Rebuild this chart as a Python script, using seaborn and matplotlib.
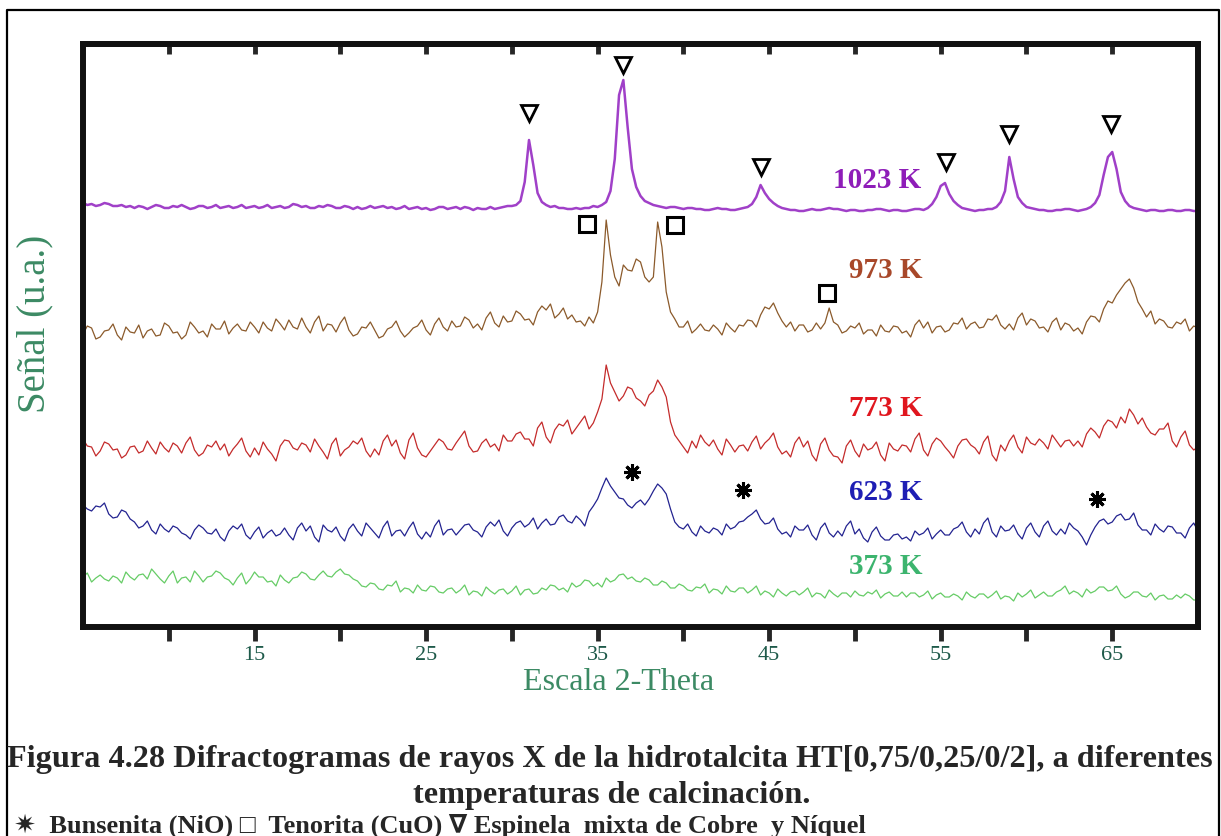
import numpy as np
import pandas as pd
import matplotlib
matplotlib.use("Agg")
import matplotlib.pyplot as plt
from matplotlib.lines import Line2D
import seaborn as sns

sns.set_theme(style="white")
plt.rcParams["font.family"] = ["Liberation Serif", "DejaVu Sans"]

# 2-theta grid: 5.0 -> 70.0 every 0.25 degree
theta_start, theta_step = 5.0, 0.25

# signal (a.u.), one row per degree (x.00, x.25, x.50, x.75)
s1023 = [424, 422, 423, 421,  422, 424, 423, 421,  421, 422, 420, 421,  419, 421, 420, 418,  420, 422, 421, 419,
         419, 421, 420, 422,  420, 418, 419, 421,  421, 419, 420, 422,  419, 420, 421, 419,  420, 422, 419, 420,
         421, 419, 420, 422,  419, 420, 421, 419,  420, 423, 422, 420,  421, 419, 419, 421,  420, 422, 421, 419,
         419, 421, 420, 418,  420, 418, 419, 421,  419, 420, 421, 419,  420, 418, 419, 421,  418, 419, 420, 418,
         419, 417, 418, 420,  420, 418, 419, 420,  418, 420, 419, 417,  419, 418, 418, 420,  418, 419, 420, 421,
         421, 422, 426, 445,  487, 462, 434, 425,  422, 420, 421, 419,  419, 418, 418, 419,  418, 419, 419, 421,
         420, 422, 425, 436,  468, 532, 547, 500,  458, 440, 431, 426,  424, 422, 421, 420,  419, 420, 420, 419,
         418, 419, 419, 418,  418, 417, 417, 418,  419, 418, 418, 417,  417, 418, 419, 420,  423, 430, 442, 434,
         428, 424, 421, 419,  418, 417, 417, 416,  416, 417, 418, 417,  417, 418, 419, 418,  418, 417, 416, 417,
         417, 416, 416, 417,  417, 418, 418, 417,  416, 417, 417, 416,  416, 417, 418, 418,  417, 419, 423, 430,
         441, 444, 433, 426,  422, 419, 418, 417,  416, 417, 417, 418,  418, 420, 425, 436,  470, 448, 430, 424,
         420, 419, 418, 417,  417, 416, 416, 417,  417, 418, 418, 417,  416, 417, 418, 420,  424, 432, 452, 470,
         475, 458, 435, 426,  421, 419, 418, 417,  416, 417, 417, 416,  416, 417, 417, 416,  416, 417, 417, 416,
         416]
s973 = [293, 301, 299, 288,  290, 296, 297, 303,  292, 287, 300, 295,  294, 302, 289, 296,  298, 291, 292, 304,
        301, 294, 295, 288,  292, 305, 300, 294,  296, 290, 303, 298,  298, 306, 293, 299,  303, 297, 296, 305,
        300, 294, 305, 299,  296, 308, 303, 297,  307, 300, 298, 309,  300, 294, 305, 311,  296, 303, 302, 295,
        304, 310, 297, 291,  293, 300, 299, 305,  297, 289, 291, 298,  300, 306, 296, 290,  294, 299, 301, 307,
        297, 292, 303, 309,  300, 296, 306, 300,  301, 310, 307, 299,  303, 297, 309, 315,  304, 300, 311, 305,
        306, 316, 313, 307,  308, 302, 315, 321,  317, 323, 309, 313,  319, 308, 312, 305,  306, 301, 310, 304,
        315, 345, 407, 372,  350, 341, 362, 357,  356, 368, 365, 350,  345, 350, 405, 380,  335, 315, 308, 300,
        300, 306, 294, 298,  303, 297, 296, 302,  298, 292, 304, 299,  295, 302, 301, 307,  306, 300, 312, 320,
        318, 324, 314, 306,  300, 305, 296, 302,  302, 295, 297, 304,  298, 304, 319, 305,  302, 294, 296, 301,
        299, 304, 293, 297,  297, 291, 302, 296,  295, 301, 300, 294,  296, 290, 302, 307,  299, 305, 294, 300,
        301, 295, 297, 304,  303, 309, 298, 303,  305, 299, 300, 308,  307, 312, 302, 298,  303, 297, 309, 314,
        302, 308, 306, 299,  300, 295, 305, 309,  297, 304, 302, 296,  299, 293, 305, 311,  310, 305, 318, 326,
        324, 332, 338, 344,  348, 339, 325, 318,  310, 316, 303, 308,  306, 300, 299, 305,  303, 308, 296, 301,
        299]
s773 = [188, 181, 180, 171,  176, 185, 183, 177,  178, 169, 172, 180,  181, 174, 176, 186,  179, 173, 185, 179,
        175, 184, 181, 174,  184, 190, 177, 171,  174, 182, 180, 186,  177, 183, 171, 178,  183, 189, 176, 170,
        179, 172, 185, 178,  173, 166, 181, 187,  186, 179, 177, 184,  182, 175, 188, 181,  175, 168, 183, 189,
        171, 177, 180, 186,  183, 189, 176, 170,  178, 172, 186, 192,  181, 187, 174, 168,  187, 194, 179, 172,
        170, 176, 182, 188,  185, 178, 177, 184,  190, 196, 181, 175,  176, 184, 188, 180,  183, 176, 192, 186,
        186, 193, 195, 188,  188, 181, 199, 205,  190, 184, 197, 203,  201, 207, 193, 199,  205, 211, 198, 204,
        215, 228, 262, 244,  235, 226, 231, 240,  238, 229, 226, 221,  232, 236, 247, 240,  230, 205, 192, 186,
        180, 174, 186, 179,  192, 185, 181, 187,  178, 172, 188, 182,  175, 181, 182, 176,  185, 191, 178, 184,
        188, 194, 180, 173,  176, 170, 184, 190,  180, 186, 172, 166,  183, 189, 177, 171,  170, 164, 181, 187,
        176, 170, 183, 177,  179, 185, 172, 166,  184, 178, 176, 182,  181, 175, 188, 194,  177, 171, 183, 189,
        186, 180, 175, 169,  181, 187, 188, 182,  179, 173, 185, 191,  172, 166, 182, 176,  186, 192, 180, 174,
        190, 184, 182, 188,  184, 178, 192, 186,  180, 186, 187, 181,  186, 180, 193, 199,  195, 189, 201, 207,
        205, 199, 210, 204,  218, 212, 203, 209,  200, 194, 192, 198,  198, 204, 186, 180,  190, 196, 182, 177,
        180]
s623 = [122, 118, 116, 121,  120, 124, 113, 109,  110, 117, 115, 108,  105, 99, 101, 106,  97, 93, 103, 98,
        95, 101, 99, 94,  92, 88, 97, 102,  99, 94, 93, 98,  90, 86, 96, 101,  98, 103, 92, 88,
        95, 100, 89, 94,  97, 91, 93, 99,  92, 87, 99, 104,  96, 101, 90, 85,  102, 97, 95, 100,
        91, 86, 98, 103,  96, 91, 104, 99,  94, 89, 100, 106,  91, 96, 97, 91,  99, 105, 93, 88,
        95, 90, 101, 107,  92, 97, 98, 92,  97, 102, 103, 97,  95, 90, 100, 105,  101, 107, 96, 91,
        99, 104, 106, 100,  103, 109, 98, 104,  108, 102, 103, 110,  112, 106, 104, 111,  107, 101, 115, 121,
        128, 139, 149, 141,  135, 129, 128, 122,  119, 124, 127, 122,  128, 136, 143, 139,  133, 118, 105, 100,
        98, 103, 95, 91,  101, 96, 94, 99,  97, 92, 103, 98,  100, 105, 106, 110,  113, 117, 108, 103,
        104, 109, 98, 93,  95, 90, 101, 97,  97, 102, 92, 87,  99, 104, 94, 90,  96, 91, 101, 106,
        93, 98, 89, 85,  95, 100, 91, 87,  87, 92, 93, 88,  90, 86, 96, 92,  94, 99, 88, 93,
        97, 92, 92, 98,  100, 105, 95, 90,  98, 93, 104, 109,  95, 90, 101, 96,  97, 102, 93, 88,
        99, 104, 95, 90,  101, 106, 96, 92,  98, 93, 104, 99,  96, 90, 82, 92,  100, 106, 108, 103,
        105, 111, 113, 107,  108, 114, 102, 97,  97, 92, 103, 98,  95, 101, 100, 94,  94, 89, 99, 104,
        96]
s373 = [50, 54, 45, 49,  52, 48, 46, 51,  49, 44, 55, 50,  47, 52, 53, 48,  58, 53, 48, 44,
        51, 56, 44, 49,  50, 45, 56, 51,  45, 50, 51, 56,  54, 49, 47, 42,  49, 54, 43, 48,
        55, 50, 50, 45,  46, 41, 52, 47,  44, 49, 50, 55,  53, 48, 47, 52,  56, 51, 50, 55,
        58, 53, 52, 48,  46, 41, 40, 44,  43, 38, 37, 42,  41, 46, 35, 39,  38, 34, 42, 37,
        36, 41, 40, 35,  34, 38, 39, 34,  37, 42, 32, 36,  35, 31, 40, 36,  33, 37, 38, 33,
        36, 41, 32, 37,  38, 33, 34, 39,  37, 42, 41, 37,  39, 35, 44, 40,  42, 47, 46, 41,
        44, 40, 49, 45,  47, 52, 53, 48,  50, 46, 45, 49,  47, 42, 42, 46,  44, 39, 39, 43,
        41, 37, 36, 40,  39, 43, 34, 38,  37, 33, 41, 36,  35, 39, 39, 34,  37, 41, 32, 36,
        34, 30, 38, 34,  31, 35, 36, 32,  35, 39, 30, 34,  33, 29, 37, 33,  30, 34, 34, 30,
        36, 32, 31, 35,  33, 37, 29, 33,  35, 31, 31, 35,  30, 34, 34, 30,  32, 36, 28, 32,
        34, 30, 30, 33,  31, 27, 35, 31,  29, 33, 33, 29,  32, 36, 28, 31,  30, 26, 34, 30,
        33, 37, 29, 32,  35, 31, 31, 35,  37, 41, 33, 36,  34, 30, 38, 34,  36, 40, 40, 36,
        37, 41, 33, 29,  31, 35, 35, 31,  30, 34, 27, 31,  32, 28, 28, 32,  29, 33, 31, 27,
        27]

temps = ["1023 K", "973 K", "773 K", "623 K", "373 K"]
signals = [s1023, s973, s773, s623, s373]

# phase markers (2-theta positions) and how far they sit above the local peak
espinela = [31.0, 36.5, 44.5, 55.3, 59.0, 64.9]
espinela_dy = [27, 15, 18, 21, 23, 28]
tenorita = [34.4, 39.5, 48.4]
tenorita_dy = [-4, -3, 15]
bunsenita = [37.0, 43.5, 64.1]

line_colors = {"1023 K": "#a040c8", "973 K": "#8b5a2b", "773 K": "#c42b2b",
               "623 K": "#232390", "373 K": "#66cc66"}
label_colors = {"1023 K": "#8e1db8", "973 K": "#a8482a", "773 K": "#e0161e",
                "623 K": "#1e1eb4", "373 K": "#3cb46e"}
label_spots = {"1023 K": (51.3, 447), "973 K": (51.8, 357), "773 K": (51.8, 219),
               "623 K": (51.8, 135), "373 K": (51.8, 60)}

frames = []
for t, s in zip(temps, signals):
    x = theta_start + theta_step * np.arange(len(s))
    frames.append(pd.DataFrame({"theta": x, "signal": s, "temp": t}))
df = pd.concat(frames, ignore_index=True)

W, H = 1221, 836
fig = plt.figure(figsize=(W / 100, H / 100), dpi=100)
ax = fig.add_axes([83 / W, 1 - 627 / H, (1198 - 83) / W, (627 - 44) / H])

sns.lineplot(data=df, x="theta", y="signal", hue="temp", hue_order=temps,
             palette=line_colors, legend=False, estimator=None, sort=False,
             linewidth=0.9, ax=ax)
ax.lines[0].set_linewidth(1.8)


def local_max(series, x0, half=0.6):
    xs = theta_start + theta_step * np.arange(len(series))
    m = np.abs(xs - x0) <= half
    return np.max(np.array(series)[m])


for x0, dy in zip(espinela, espinela_dy):
    ax.plot(x0, local_max(s1023, x0) + dy, marker="v", ms=12, mfc="white",
            mec="black", mew=2.0, ls="none", zorder=5)
for x0, dy in zip(tenorita, tenorita_dy):
    ax.plot(x0, local_max(s973, x0, 1.2) + dy, marker="s", ms=12, mfc="white",
            mec="black", mew=2.2, ls="none", zorder=5)
for x0 in bunsenita:
    ax.plot(x0, local_max(s623, x0, 1.0) + 20, marker=(8, 2, 0), ms=12,
            mec="black", mew=2.2, ls="none", zorder=5)

for t in temps:
    ax.text(*label_spots[t], t, color=label_colors[t], fontsize=21,
            fontweight="bold", ha="center", va="center")

ax.set_xlim(5, 70)
ax.set_ylim(0, 583)
ax.set_yticks([])
ticks = np.arange(10, 66, 5)
ax.set_xticks(ticks)
ax.set_xticklabels([str(v) if v % 10 == 5 else "" for v in ticks])
ax.tick_params(axis="x", direction="out", length=10, width=3.5, bottom=True,
               labelsize=16, labelcolor="#1e5a4a", pad=4)
top = ax.secondary_xaxis("top")
top.set_xticks(ticks)
top.tick_params(direction="in", length=7, width=3.5, labeltop=False)
top.spines["top"].set_linewidth(4.3)
for sp in ax.spines.values():
    sp.set_linewidth(4.3)
    sp.set_color("#111111")

ax.set_xlabel("Escala 2-Theta", fontsize=23, color="#3c8a64")
ax.xaxis.set_label_coords(0.48, -0.096)
ax.xaxis.label.set_va("center")
ax.set_ylabel("Señal (u.a.)", fontsize=28, color="#3c8a64")
ax.yaxis.set_label_coords(-0.043, 0.52)
ax.yaxis.label.set_va("center")

# captions
fig.text(610 / W, 1 - 760 / H,
         "Figura 4.28 Difractogramas de rayos X de la hidrotalcita HT[0,75/0,25/0/2], a diferentes",
         fontsize=23.2, fontweight="bold", ha="center", va="center")
fig.text(612 / W, 1 - 795 / H, "temperaturas de calcinación.",
         fontsize=23.2, fontweight="bold", ha="center", va="center")
fig.text(14 / W, 1 - 826 / H,
         "\u2737  Bunsenita (NiO) \u25a1  Tenorita (CuO) \u2207 Espinela  mixta de Cobre  y Níquel",
         fontsize=19, fontweight="bold", ha="left", va="center")

# outer frame
fig.add_artist(Line2D([7 / W, 7 / W, 1219 / W, 1219 / W],
                      [0, 1 - 10 / H, 1 - 10 / H, 0],
                      transform=fig.transFigure, color="black", lw=1.6))

fig.savefig("out.png", dpi=100)
